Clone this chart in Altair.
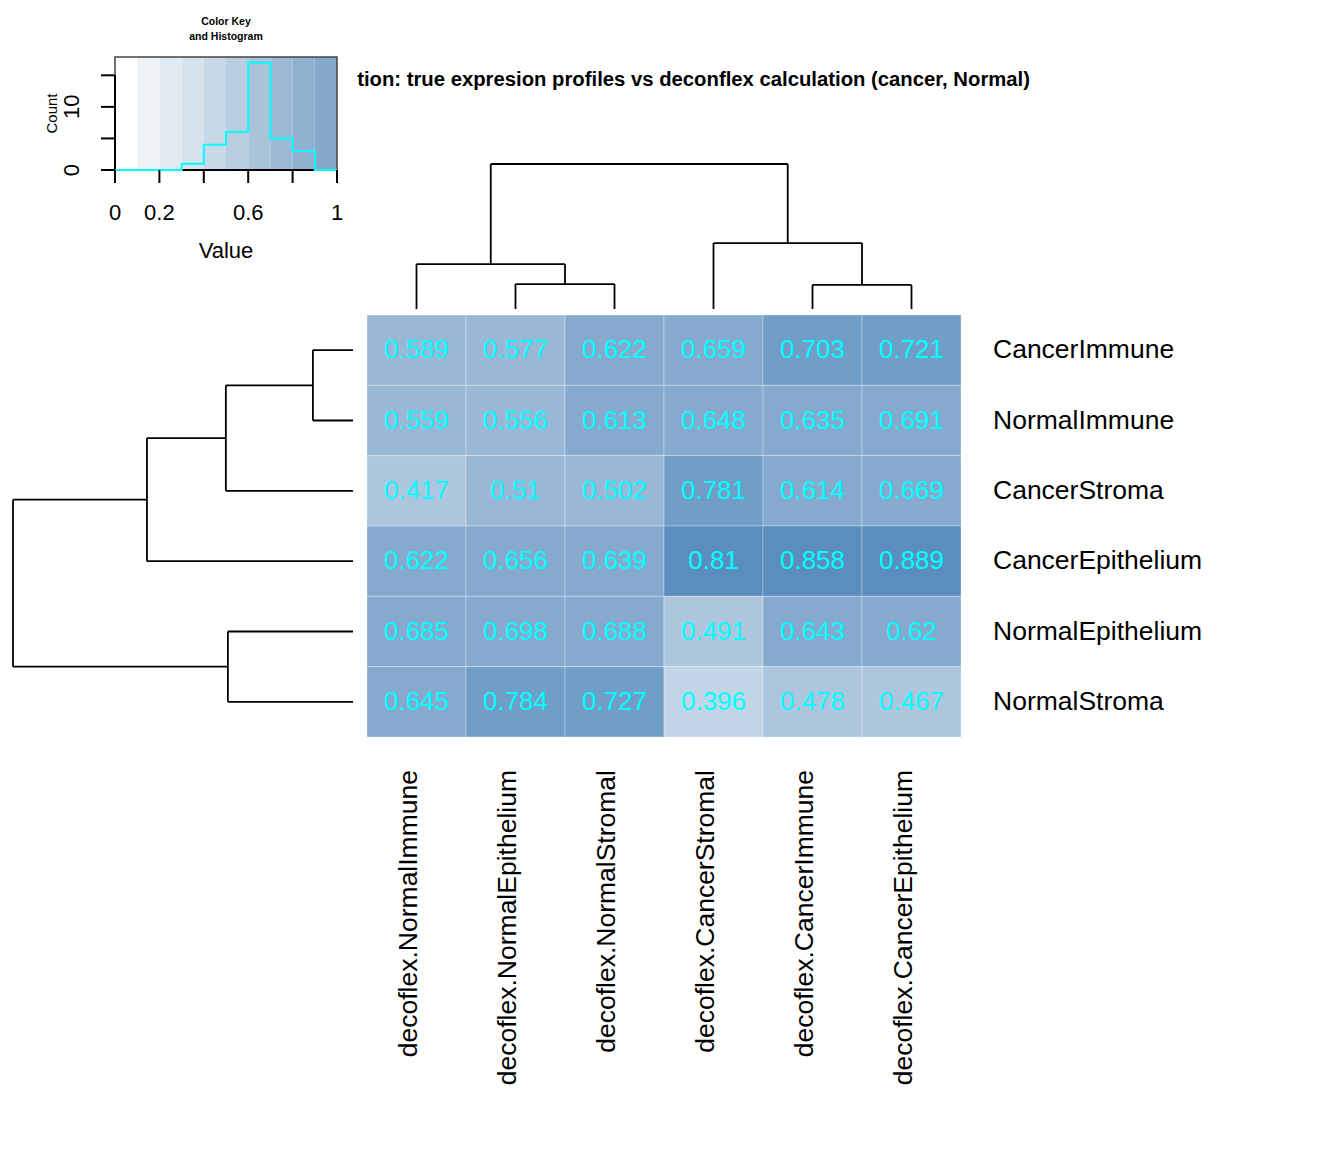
import altair as alt
import pandas as pd
import numpy as np

FONT = "Liberation Sans"

# ---------------- data ----------------
row_names = ["CancerImmune", "NormalImmune", "CancerStroma",
             "CancerEpithelium", "NormalEpithelium", "NormalStroma"]
col_names = ["decoflex.NormalImmune", "decoflex.NormalEpithelium", "decoflex.NormalStromal",
             "decoflex.CancerStromal", "decoflex.CancerImmune", "decoflex.CancerEpithelium"]
row_values = [
    [0.589, 0.577, 0.622, 0.659, 0.703, 0.721],
    [0.559, 0.556, 0.613, 0.648, 0.635, 0.691],
    [0.417, 0.51, 0.502, 0.781, 0.614, 0.669],
    [0.622, 0.656, 0.639, 0.81, 0.858, 0.889],
    [0.685, 0.698, 0.688, 0.491, 0.643, 0.62],
    [0.645, 0.784, 0.727, 0.396, 0.478, 0.467],
]
title_text = "tion: true expresion profiles vs deconflex calculation (cancer, Normal)"

breaks = [0.0, 0.1, 0.2, 0.3, 0.4, 0.5, 0.6, 0.7, 0.8, 0.9, 1.0]
cell_colors = ["#F4F7FA", "#E6EDF4", "#D5E2EE", "#C2D5E6", "#ADC5DD",
               "#99B8D5", "#86AACE", "#719EC6", "#5B8EBC", "#4A82B5"]
key_colors = ["#FFFFFF", "#EFF3F7", "#E3EBF2", "#D6E2EC", "#C7D8E6",
              "#B9CDE1", "#AAC3DA", "#9DBAD5", "#90B1CF", "#84A9CA"]
x_ticks = [0.0, 0.2, 0.4, 0.6, 0.8, 1.0]
x_tick_labels = ["0", "0.2", "", "0.6", "", "1"]
y_ticks = [0, 5, 10, 15]
y_tick_labels = ["0", "", "10", ""]
key_ymax = 17.9

# dendrogram merges (left, right, relative height); m<k> = k-th merge
col_merges = [(1, 2, 0.172), (4, 5, 0.166), (0, "m0", 0.31), (3, "m1", 0.455), ("m2", "m3", 1.0)]
row_merges = [(0, 1, 0.118), (4, 5, 0.368), ("m0", 2, 0.374), ("m2", 3, 0.606), ("m3", "m1", 1.0)]

# ---------------- layout (pixels) ----------------
HM_X = [367, 961]
HM_Y = [315, 737]
COL_DEND_Y = [309, 164]
ROW_DEND_X = [353, 13]
KEY_X = [115, 337]
KEY_Y = [170, 57]


def dendro_segments(merges, n):
    pos = {i: float(i) for i in range(n)}
    hgt = {i: 0.0 for i in range(n)}
    segs = []
    for k, (a, b, h) in enumerate(merges):
        for c in (a, b):
            segs.append(dict(p=pos[c], p2=pos[c], h=hgt[c], h2=h))
        segs.append(dict(p=pos[a], p2=pos[b], h=h, h2=h))
        pos[f"m{k}"] = (pos[a] + pos[b]) / 2
        hgt[f"m{k}"] = h
    return pd.DataFrame(segs)


cells = []
for r, rn in enumerate(row_names):
    for c, cn in enumerate(col_names):
        v = row_values[r][c]
        cells.append(dict(row=rn, col=cn, value=v, label=f"{v:g}"))
cells = pd.DataFrame(cells)

all_vals = np.array(row_values).ravel()
counts, _ = np.histogram(all_vals, bins=np.array(breaks))
hist = pd.DataFrame({"x": breaks, "n": list(counts) + [counts[-1]]})
key_bins = pd.DataFrame({"lo": breaks[:-1], "hi": breaks[1:], "color": key_colors, "b": 0.0, "t": key_ymax})
frame = pd.DataFrame({"lo": [0.0], "hi": [1.0], "b": [0.0], "t": [key_ymax]})
xt = pd.DataFrame({"v": x_ticks, "lab": x_tick_labels, "b": 0.0})
yt = pd.DataFrame({"v": y_ticks, "lab": y_tick_labels, "l": 0.0})
key_text = pd.DataFrame({"x": [0.5], "b": [0.0], "t": [key_ymax], "l": [0.0], "mid": [key_ymax / 2]})

# ---------------- scales ----------------
def hx():
    return alt.X("col:N", scale=alt.Scale(domain=col_names, range=HM_X, paddingInner=0, paddingOuter=0), axis=None)


def hy():
    return alt.Y("row:N", scale=alt.Scale(domain=row_names, range=HM_Y, paddingInner=0, paddingOuter=0), axis=None)


def kx(f):
    return alt.X(f, scale=alt.Scale(domain=[0, 1], range=KEY_X, nice=False, zero=False), axis=None)


def ky(f):
    return alt.Y(f, scale=alt.Scale(domain=[0, key_ymax], range=KEY_Y, nice=False, zero=False), axis=None)


lin = dict(nice=False, zero=False)

# ---------------- layers ----------------
heat = alt.Chart(cells).mark_rect(stroke="white", strokeOpacity=0.3, strokeWidth=1).encode(
    x=hx(), y=hy(),
    color=alt.Color("value:Q", scale=alt.Scale(type="threshold", domain=breaks[1:-1], range=cell_colors), legend=None),
)
notes = alt.Chart(cells).mark_text(font=FONT, fontSize=26, color="#00FFFF", baseline="middle").encode(
    x=hx(), y=hy(), text="label:N"
)
row_lab = alt.Chart(cells[cells.col == col_names[0]]).mark_text(
    font=FONT, fontSize=26.5, align="left", baseline="middle", color="black"
).encode(x=alt.value(993), y=hy(), text="row:N")
col_lab = alt.Chart(cells[cells.row == row_names[0]]).mark_text(
    font=FONT, fontSize=26.5, align="right", baseline="middle", angle=270, color="black", xOffset=-8
).encode(x=hx(), y=alt.value(770), text="col:N")

cd = dendro_segments(col_merges, 6)
col_dend = alt.Chart(cd).mark_rule(color="black", strokeWidth=1.8).encode(
    x=alt.X("p:Q", scale=alt.Scale(domain=[-0.5, 5.5], range=HM_X, **lin), axis=None),
    x2="p2:Q",
    y=alt.Y("h:Q", scale=alt.Scale(domain=[0, 1], range=COL_DEND_Y, **lin), axis=None),
    y2="h2:Q",
)
rd = dendro_segments(row_merges, 6)
row_dend = alt.Chart(rd).mark_rule(color="black", strokeWidth=1.8).encode(
    y=alt.Y("p:Q", scale=alt.Scale(domain=[-0.5, 5.5], range=HM_Y, **lin), axis=None),
    y2="p2:Q",
    x=alt.X("h:Q", scale=alt.Scale(domain=[0, 1], range=ROW_DEND_X, **lin), axis=None),
    x2="h2:Q",
)

key_rect = alt.Chart(key_bins).mark_rect().encode(
    x=kx("lo:Q"), x2="hi:Q", y=ky("b:Q"), y2="t:Q", color=alt.Color("color:N", scale=None)
)
key_frame = alt.Chart(frame).mark_rect(filled=False, stroke="#444444", strokeWidth=1.5).encode(
    x=kx("lo:Q"), x2="hi:Q", y=ky("b:Q"), y2="t:Q"
)
x_axis_line = alt.Chart(frame).mark_rule(color="black", strokeWidth=2).encode(
    x=kx("lo:Q"), x2="hi:Q", y=ky("b:Q")
)
y_axis_line = alt.Chart(pd.DataFrame({"l": [0.0], "a": [y_ticks[0]], "z": [y_ticks[-1]]})).mark_rule(
    color="black", strokeWidth=2).encode(x=kx("l:Q"), y=ky("a:Q"), y2="z:Q")
hist_line = alt.Chart(hist).mark_line(interpolate="step-after", color="#00FFFF", strokeWidth=2).encode(
    x=kx("x:Q"), y=ky("n:Q")
)
x_tick_marks = alt.Chart(xt).mark_rule(color="black", strokeWidth=2, y2Offset=13).encode(
    x=kx("v:Q"), y=ky("b:Q"), y2="b:Q"
)
x_tick_text = alt.Chart(xt).mark_text(font=FONT, fontSize=22, baseline="middle", yOffset=43).encode(
    x=kx("v:Q"), y=ky("b:Q"), text="lab:N"
)
y_tick_marks = alt.Chart(yt).mark_rule(color="black", strokeWidth=2, x2Offset=-14).encode(
    x=kx("l:Q"), x2="l:Q", y=ky("v:Q")
)
y_tick_text = alt.Chart(yt).mark_text(font=FONT, fontSize=22, baseline="middle", angle=270, xOffset=-43).encode(
    x=kx("l:Q"), y=ky("v:Q"), text="lab:N"
)
count_lab = alt.Chart(key_text).mark_text(font=FONT, fontSize=15, baseline="middle", angle=270, xOffset=-63,
                                          text="Count").encode(x=kx("l:Q"), y=ky("mid:Q"))
value_lab = alt.Chart(key_text).mark_text(font=FONT, fontSize=22, baseline="middle", yOffset=81,
                                          text="Value").encode(x=kx("x:Q"), y=ky("b:Q"))
key_t1 = alt.Chart(key_text).mark_text(font=FONT, fontSize=10.5, fontWeight="bold", baseline="middle",
                                       yOffset=-35, text="Color Key").encode(x=kx("x:Q"), y=ky("t:Q"))
key_t2 = alt.Chart(key_text).mark_text(font=FONT, fontSize=10.5, fontWeight="bold", baseline="middle",
                                       yOffset=-20, text="and Histogram").encode(x=kx("x:Q"), y=ky("t:Q"))

main_title = alt.Chart(pd.DataFrame({"t": [title_text]})).mark_text(
    font=FONT, fontSize=20.3, fontWeight="bold", align="right", baseline="middle"
).encode(x=alt.value(1030), y=alt.value(80), text="t:N")

chart = alt.layer(
    heat, notes, row_lab, col_lab, col_dend, row_dend,
    main_title,
    key_rect, key_frame, x_axis_line, y_axis_line, hist_line,
    x_tick_marks, x_tick_text, y_tick_marks, y_tick_text,
    count_lab, value_lab, key_t1, key_t2,
).resolve_scale(x="independent", y="independent", color="independent").properties(
    width=1344, height=1152, autosize=alt.AutoSizeParams(type="none"), padding=0,
    background="white",
).configure_view(stroke=None)

chart.save("out.html", embed_options={"renderer": "svg", "actions": False})
